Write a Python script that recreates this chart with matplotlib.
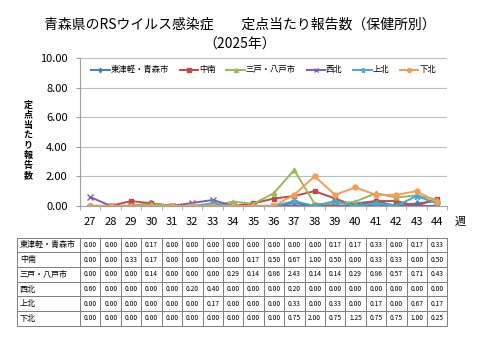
import numpy as np
import matplotlib
matplotlib.use('Agg')
import matplotlib.pyplot as plt

plt.rcParams['font.family'] = ['Noto Sans CJK JP', 'DejaVu Sans']

weeks = [27, 28, 29, 30, 31, 32, 33, 34, 35, 36, 37, 38, 39, 40, 41, 42, 43, 44]
areas = ['東津軽・青森市', '中南', '三戸・八戸市', '西北', '上北', '下北']
higashi = [0.00, 0.00, 0.00, 0.17, 0.00, 0.00, 0.00, 0.00, 0.00, 0.00, 0.00, 0.00, 0.17, 0.17, 0.33, 0.00, 0.17, 0.33]
chunan = [0.00, 0.00, 0.33, 0.17, 0.00, 0.00, 0.00, 0.00, 0.17, 0.50, 0.67, 1.00, 0.50, 0.00, 0.33, 0.33, 0.00, 0.50]
sannohe = [0.00, 0.00, 0.00, 0.14, 0.00, 0.00, 0.00, 0.29, 0.14, 0.86, 2.43, 0.14, 0.14, 0.29, 0.86, 0.57, 0.71, 0.43]
seihoku = [0.60, 0.00, 0.00, 0.00, 0.00, 0.20, 0.40, 0.00, 0.00, 0.00, 0.20, 0.00, 0.00, 0.00, 0.00, 0.00, 0.00, 0.00]
kamikita = [0.00, 0.00, 0.00, 0.00, 0.00, 0.00, 0.17, 0.00, 0.00, 0.00, 0.33, 0.00, 0.33, 0.00, 0.17, 0.00, 0.67, 0.17]
shimokita = [0.00, 0.00, 0.00, 0.00, 0.00, 0.00, 0.00, 0.00, 0.00, 0.00, 0.75, 2.00, 0.75, 1.25, 0.75, 0.75, 1.00, 0.25]

series = [higashi, chunan, sannohe, seihoku, kamikita, shimokita]
colors = ['#4A7EBB', '#BE4B48', '#98B954', '#7D60A0', '#46AAC5', '#F59D56']
markers = ['d', 's', '^', 'x', '*', 'o']
msizes = [3, 3.5, 3.5, 4, 4.5, 3.5]

fig = plt.figure(figsize=(4.8, 3.6), dpi=100)
ax = fig.add_axes([0.1667, 0.428, 0.765, 0.411])

x = np.arange(len(weeks))
for vals, name, c, m, ms in zip(series, areas, colors, markers, msizes):
    ax.plot(x, vals, color=c, marker=m, markersize=ms, linewidth=1.4, label=name)

ax.set_ylim(0, 10)
ax.set_xlim(-0.5, len(weeks) - 0.5)
ax.set_yticks([0, 2, 4, 6, 8, 10])
ax.set_yticklabels(['%.2f' % v for v in [0, 2, 4, 6, 8, 10]], fontsize=8)
ax.set_xticks(x)
ax.set_xticklabels([str(w) for w in weeks], fontsize=8)
ax.set_xticks(np.arange(len(weeks) + 1) - 0.5, minor=True)
ax.tick_params(axis='x', which='major', length=0, pad=8)
ax.tick_params(axis='x', which='minor', length=3, color='#A0A0A0')
ax.tick_params(axis='y', length=3, color='#A0A0A0', pad=6)
ax.grid(axis='y', color='#BEBEBE', linewidth=0.8)
ax.set_axisbelow(True)
for s in ['top', 'right']:
    ax.spines[s].set_visible(False)
ax.spines['left'].set_color('#A0A0A0')
ax.spines['bottom'].set_color('#A0A0A0')
ax.text(1.035, -0.108, '週', transform=ax.transAxes, fontsize=8, ha='center', va='center')

ax.legend(loc='upper center', bbox_to_anchor=(0.5, 1.0), ncol=6, fontsize=6,
          frameon=False, handlelength=2.2, columnspacing=1.3, handletextpad=0.1,
          markerscale=0.8)

fig.text(0.5, 0.933, '青森県のRSウイルス感染症\u3000\u3000定点当たり報告数（保健所別）',
         ha='center', va='center', fontsize=10)
fig.text(0.5, 0.876, '（2025年）', ha='center', va='center', fontsize=10)
fig.text(0.058, 0.611, '\n'.join('定点当たり報告数'), ha='center', va='center',
         fontsize=6.5, fontweight='bold', linespacing=1.15)

# table
tax = fig.add_axes([0.035, 0.095, 0.897, 0.245])
tax.axis('off')
cell_text = [['%.2f' % v for v in vals] for vals in series]
rows = [[name] + r for name, r in zip(areas, cell_text)]
label_w = 0.147
col_w = (1 - label_w) / len(weeks)
tbl = tax.table(cellText=rows, colWidths=[label_w] + [col_w] * len(weeks),
                bbox=[0, 0, 1, 1], cellLoc='center')
tbl.auto_set_font_size(False)
for (r, c), cell in tbl.get_celld().items():
    cell.set_edgecolor('#7F7F7F')
    cell.set_linewidth(0.7)
    if c == 0:
        cell.set_text_props(fontsize=5.8, ha='left')
        cell.PAD = 0.05
    else:
        cell.set_text_props(fontsize=4.8)

fig.savefig('out.png', dpi=100)
